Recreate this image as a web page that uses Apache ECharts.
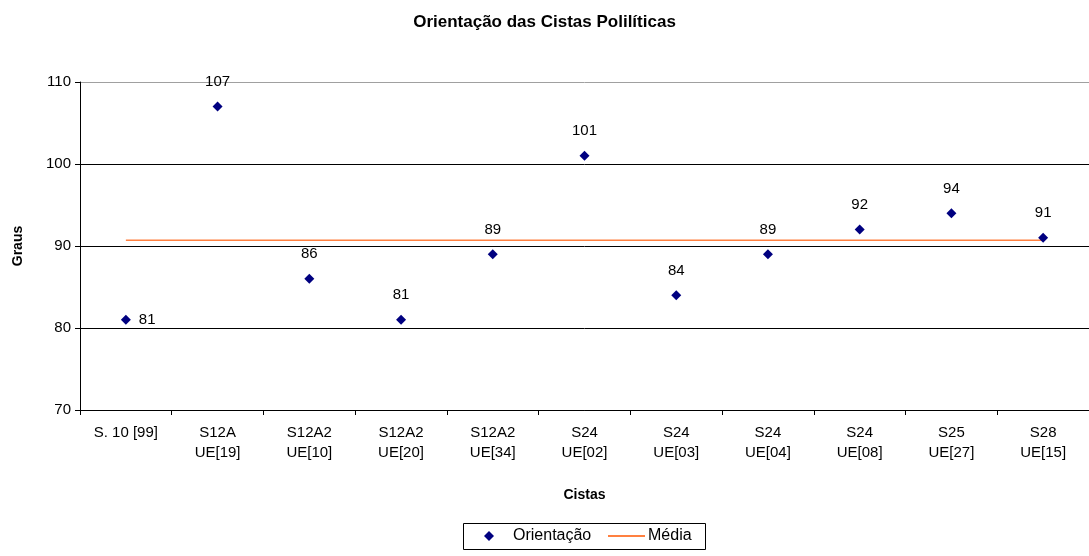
<!DOCTYPE html>
<html><head><meta charset="utf-8">
<script src="https://cdn.jsdelivr.net/npm/echarts@6/dist/echarts.min.js"></script>
<style>html,body{margin:0;padding:0;background:#fff}#c{width:1089px;height:556px}</style>
</head><body><div id="c"></div>
<script>
const categories = ['S. 10 [99]','S12A\nUE[19]','S12A2\nUE[10]','S12A2\nUE[20]','S12A2\nUE[34]','S24\nUE[02]','S24\nUE[03]','S24\nUE[04]','S24\nUE[08]','S25\nUE[27]','S28\nUE[15]'];
const orientacao = [81,107,86,81,89,101,84,89,92,94,91];
const media = [90.7,90.7,90.7,90.7,90.7,90.7,90.7,90.7,90.7,90.7,90.7];
const yTicks = [70,80,90,100,110];

const F = '"Liberation Sans", Arial, sans-serif';
const chart = echarts.init(document.getElementById('c'));
chart.setOption({
  animation:false,
  textStyle:{fontFamily:F,color:'#000'},
  title:{text:'Orientação das Cistas Polilíticas',left:'center',top:9,
    textStyle:{fontFamily:F,fontSize:17,fontWeight:'bold',color:'#000'}},
  grid:{left:80,right:-4,top:82,bottom:146,containLabel:false},
  xAxis:{type:'category',data:categories,boundaryGap:true,
    name:'Cistas',nameLocation:'middle',nameGap:78,
    nameTextStyle:{fontFamily:F,fontSize:14,fontWeight:'bold',color:'#000'},
    axisLine:{lineStyle:{color:'#000',width:1}},
    axisTick:{show:true,length:5,lineStyle:{color:'#000'}},
    axisLabel:{interval:0,fontFamily:F,fontSize:15,color:'#000',lineHeight:20,margin:13}},
  yAxis:{type:'value',min:yTicks[0],max:yTicks[yTicks.length-1],interval:10,
    name:'Graus',nameLocation:'middle',nameGap:55,nameRotate:90,
    nameTextStyle:{fontFamily:F,fontSize:14,fontWeight:'bold',color:'#000'},
    axisLine:{show:true,lineStyle:{color:'#000'}},
    axisTick:{show:true,length:5,lineStyle:{color:'#000'}},
    axisLabel:{fontFamily:F,fontSize:15,color:'#000',margin:9},
    splitLine:{show:true,lineStyle:{color:['#000','#000','#000','#000','#a0a0a0'],width:1}}},
  graphic:[{type:'rect',shape:{x:463.5,y:523.5,width:242,height:26},
    style:{fill:'none',stroke:'#000',lineWidth:1},silent:true}],
  legend:[
    {left:484,top:528,padding:0,itemWidth:10,itemHeight:10,itemGap:0,
     textStyle:{fontFamily:F,fontSize:16,color:'#000',padding:[0,0,0,14]},
     data:[{name:'Orientação',icon:'diamond'}]},
    {left:608,top:528,padding:0,itemWidth:37,itemHeight:2,
     textStyle:{fontFamily:F,fontSize:16,color:'#000',padding:[0,0,0,-2]},
     data:[{name:'Média',icon:'rect'}]}
  ],
  series:[
    {name:'Média',type:'line',data:media,symbol:'none',
      lineStyle:{color:'#ff8040',width:1.5},itemStyle:{color:'#ff8040'},z:2},
    {name:'Orientação',type:'scatter',symbol:'diamond',symbolSize:10,
      itemStyle:{color:'#000080',opacity:1},z:3,
      label:{show:true,position:'top',distance:12,fontFamily:F,fontSize:15,color:'#000'},
      data:orientacao.map((v,i)=> i===0 ? {value:v,label:{position:'right',distance:8}} : v)}
  ]
});
</script></body></html>
